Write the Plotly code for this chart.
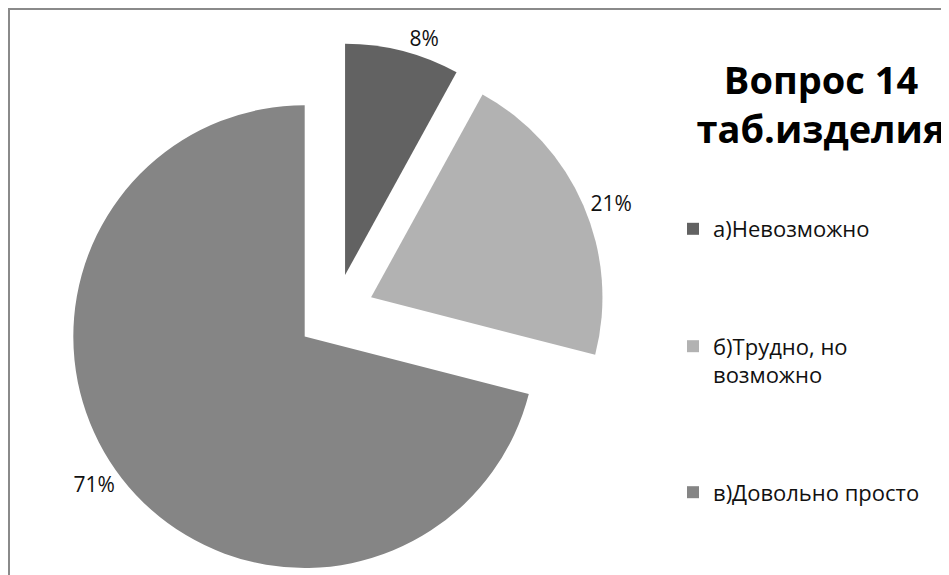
import plotly.graph_objects as go

labels = ["а)Невозможно", "б)Трудно, но<br>возможно", "в)Довольно просто"]
values = [8, 21, 71]
colors = ["#626262", "#b2b2b2", "#858585"]
title_text = "Вопрос 14<br>таб.изделия"

# pad legend entries with blank lines so they spread out like the original
pad = "<br>\u00a0"
legend_names = [labels[0] + pad * 3, labels[1] + pad * 3, labels[2]]

fig = go.Figure()
fig.add_trace(go.Pie(
    labels=legend_names,
    values=values,
    marker=dict(colors=colors, line=dict(width=0)),
    sort=False,
    direction="clockwise",
    rotation=0,
    pull=[0.168, 0.168, 0.168],
    textinfo="percent",
    texttemplate="%{percent:.0%}",
    textposition="outside",
    outsidetextfont=dict(family="Open Sans", size=21, color="#111111"),
    hoverinfo="skip",
    domain=dict(x=[0.06, 0.63], y=[0.0, 0.94]),
))

# chart frame (page body adds an 8px offset, so hug the figure edge)
fig.add_shape(type="rect", xref="paper", yref="paper",
              x0=1 / 949, y0=-0.05, x1=1.05, y1=1 - 1 / 575,
              line=dict(color="#8a8a8a", width=2), layer="below")

fig.update_layout(
    width=949, height=575,
    margin=dict(l=0, r=0, t=0, b=0, autoexpand=False),
    paper_bgcolor="white", plot_bgcolor="white",
    title=dict(text=title_text, x=813 / 949, xanchor="center",
               y=1 - 86 / 575, yanchor="top", yref="container",
               font=dict(family="Open Sans", size=38, color="#000000",
                         weight="bold")),
    legend=dict(x=665 / 949, xanchor="left", y=1 - 200 / 575, yanchor="top",
                valign="top", font=dict(family="Open Sans", size=22,
                                        color="#111111"),
                bgcolor="rgba(0,0,0,0)"),
    showlegend=True,
)

fig.write_html("out.html")
